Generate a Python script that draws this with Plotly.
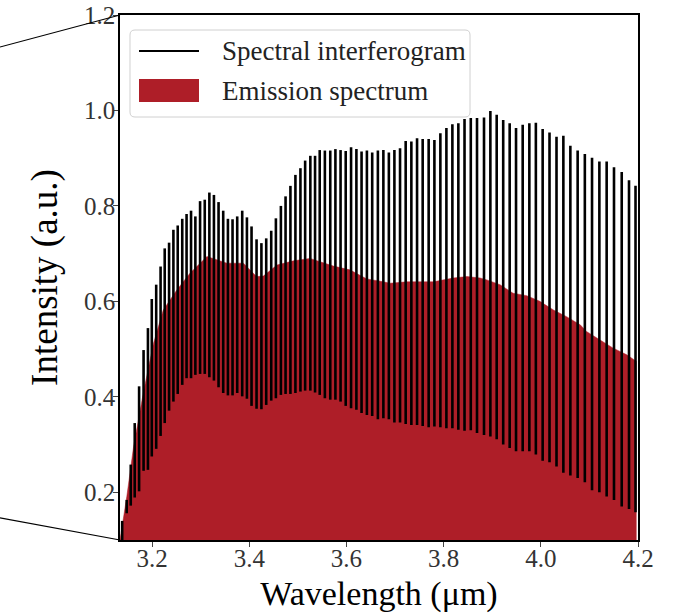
import plotly.graph_objects as go

# Spectral interferogram: one entry per fringe (wavelength in um, trough and peak intensity)
fringe_wl = [3.1385, 3.1478, 3.1561, 3.1643, 3.1733, 3.1825, 3.1915, 3.1994, 3.2085, 3.2175, 3.2260,
             3.2350, 3.2439, 3.2528, 3.2621, 3.2710, 3.2802, 3.2891, 3.2988, 3.3084, 3.3179,
             3.3273, 3.3368, 3.3464, 3.3561, 3.3656, 3.3752, 3.3855, 3.3952, 3.4047, 3.4150,
             3.4250, 3.4349, 3.4452, 3.4548, 3.4651, 3.4747, 3.4847, 3.4950, 3.5053, 3.5150,
             3.5257, 3.5354, 3.5450, 3.5556, 3.5667, 3.5773, 3.5879, 3.5985, 3.6095, 3.6205,
             3.6311, 3.6421, 3.6530, 3.6647, 3.6760, 3.6873, 3.6987, 3.7103, 3.7219, 3.7336,
             3.7453, 3.7569, 3.7692, 3.7810, 3.7933, 3.8057, 3.8180, 3.8303, 3.8430, 3.8559,
             3.8687, 3.8831, 3.8962, 3.9092, 3.9226, 3.9359, 3.9490, 3.9627, 3.9764, 3.9898,
             4.0038, 4.0179, 4.0323, 4.0464, 4.0608, 4.0758, 4.0906, 4.1054, 4.1205, 4.1355,
             4.1506, 4.1665, 4.1815, 4.1949]

fringe_peak = [0.140, 0.184, 0.258, 0.345, 0.422, 0.498, 0.544, 0.605, 0.635, 0.673, 0.711,
               0.723, 0.750, 0.759, 0.773, 0.783, 0.790, 0.778, 0.810, 0.813, 0.828,
               0.823, 0.808, 0.790, 0.773, 0.772, 0.778, 0.790, 0.776, 0.757, 0.730,
               0.722, 0.732, 0.748, 0.774, 0.800, 0.820, 0.842, 0.865, 0.879, 0.895,
               0.905, 0.905, 0.917, 0.916, 0.916, 0.919, 0.917, 0.915, 0.923, 0.919,
               0.914, 0.916, 0.912, 0.916, 0.917, 0.912, 0.917, 0.921, 0.936, 0.935,
               0.942, 0.940, 0.940, 0.938, 0.952, 0.963, 0.971, 0.973, 0.982, 0.984,
               0.984, 0.985, 0.999, 0.991, 0.980, 0.973, 0.963, 0.970, 0.973, 0.974,
               0.961, 0.954, 0.945, 0.947, 0.926, 0.916, 0.909, 0.901, 0.893, 0.893,
               0.881, 0.871, 0.854, 0.842]

fringe_trough = [0.095, 0.156, 0.172, 0.189, 0.202, 0.245, 0.247, 0.275, 0.291, 0.318, 0.345,
                 0.371, 0.390, 0.406, 0.425, 0.439, 0.439, 0.446, 0.448, 0.448, 0.441,
                 0.434, 0.420, 0.408, 0.403, 0.403, 0.408, 0.401, 0.396, 0.381, 0.375,
                 0.374, 0.383, 0.392, 0.397, 0.404, 0.406, 0.406, 0.408, 0.411, 0.413,
                 0.413, 0.409, 0.404, 0.397, 0.394, 0.394, 0.390, 0.381, 0.376, 0.373,
                 0.366, 0.362, 0.360, 0.353, 0.355, 0.353, 0.346, 0.346, 0.343, 0.341,
                 0.341, 0.339, 0.336, 0.338, 0.336, 0.334, 0.334, 0.331, 0.329, 0.330,
                 0.324, 0.320, 0.317, 0.311, 0.300, 0.293, 0.286, 0.286, 0.286, 0.279,
                 0.266, 0.263, 0.254, 0.241, 0.235, 0.230, 0.221, 0.204, 0.200, 0.191,
                 0.184, 0.170, 0.165, 0.158]

# Emission spectrum (filled)
emis_wl = [3.130, 3.134, 3.148, 3.162, 3.182, 3.203, 3.223, 3.251, 3.278, 3.313, 3.354,
           3.388, 3.415, 3.429, 3.457, 3.491, 3.525, 3.546, 3.573, 3.607, 3.642,
           3.676, 3.690, 3.724, 3.779, 3.820, 3.848, 3.875, 3.889, 3.916, 3.943,
           3.971, 3.998, 4.026, 4.053, 4.081, 4.094, 4.122, 4.149, 4.177, 4.194, 4.197]
emis_val = [0.085, 0.100, 0.191, 0.296, 0.408, 0.512, 0.582, 0.624, 0.659, 0.694, 0.680,
            0.680, 0.652, 0.653, 0.676, 0.685, 0.690, 0.683, 0.674, 0.666, 0.647,
            0.641, 0.638, 0.641, 0.641, 0.649, 0.652, 0.649, 0.645, 0.635, 0.617,
            0.612, 0.600, 0.582, 0.568, 0.551, 0.537, 0.519, 0.502, 0.488, 0.477, 0.474]

x_ticks = [3.2, 3.4, 3.6, 3.8, 4.0, 4.2]
y_ticks = [0.2, 0.4, 0.6, 0.8, 1.0, 1.2]

RED = '#ae1e28'
FONT = 'Liberation Serif'

# each fringe drawn as a stroke from trough to peak
sx, sy = [], []
for wl, lo, hi in zip(fringe_wl, fringe_trough, fringe_peak):
    sx += [wl, wl, None]
    sy += [lo, hi, None]

fig = go.Figure()
fig.add_trace(go.Scatter(x=emis_wl, y=emis_val, mode='lines', fill='tozeroy',
                         fillcolor=RED, line=dict(color=RED, width=0.5),
                         name='Emission spectrum', showlegend=False))
fig.add_trace(go.Scatter(x=sx, y=sy, mode='lines', connectgaps=False,
                         line=dict(color='black', width=2.6),
                         name='Spectral interferogram', showlegend=False))

fig.update_layout(
    width=677, height=613,
    margin=dict(l=120, r=39, t=15, b=73, autoexpand=False),
    plot_bgcolor='white', paper_bgcolor='white',
    font=dict(family=FONT, color='black'),
)
fig.update_xaxes(range=[3.134, 4.2], tickvals=x_ticks, tickformat='.1f', automargin=False,
                 showline=True, linecolor='black', linewidth=1.6, mirror=True,
                 ticks='outside', ticklen=5, tickwidth=1.2, showgrid=False, zeroline=False,
                 tickfont=dict(size=25, color='#333'), ticklabelstandoff=-10,
                 ticklabeloverflow='allow',
                 title=dict(text='Wavelength (μm)', font=dict(size=34)))
fig.update_yaxes(range=[0.1, 1.2], tickvals=y_ticks, tickformat='.1f', automargin=False,
                 showline=True, linecolor='black', linewidth=1.6, mirror=True,
                 ticks='outside', ticklen=5, tickwidth=1.2, showgrid=False, zeroline=False,
                 tickfont=dict(size=25, color='#333'), ticklabelstandoff=-7,
                 ticklabeloverflow='allow',
                 title=dict(text='Intensity (a.u.)', font=dict(size=37)))

# zoom connector lines from the inset on the left
fig.add_shape(type='line', xref='paper', yref='paper', x0=-0.2317, y0=0.939, x1=0, y1=1,
              line=dict(color='black', width=1.2))
fig.add_shape(type='line', xref='paper', yref='paper', x0=-0.2317, y0=0.042, x1=0, y1=0,
              line=dict(color='black', width=1.2))

# legend box drawn by hand (matplotlib style)
x0, x1, y0, y1 = 0.0193, 0.6757, 0.8057, 0.9714
rx, ry = 0.0097, 0.0095
box = (f'M{x0+rx},{y0} L{x1-rx},{y0} Q{x1},{y0} {x1},{y0+ry} L{x1},{y1-ry} '
       f'Q{x1},{y1} {x1-rx},{y1} L{x0+rx},{y1} Q{x0},{y1} {x0},{y1-ry} '
       f'L{x0},{y0+ry} Q{x0},{y0} {x0+rx},{y0} Z')
fig.add_shape(type='path', path=box, xref='paper', yref='paper',
              fillcolor='rgba(255,255,255,0.8)', line=dict(color='#d0d0d0', width=1))
fig.add_shape(type='line', xref='paper', yref='paper', x0=0.0367, x1=0.1525,
              y0=0.9314, y1=0.9314, line=dict(color='black', width=1.8))
fig.add_shape(type='rect', xref='paper', yref='paper', x0=0.0367, x1=0.1525,
              y0=0.8343, y1=0.8781, fillcolor=RED, line=dict(width=0))
fig.add_annotation(text='Spectral interferogram', xref='paper', yref='paper',
                   x=0.193, y=0.9314, xanchor='left', yanchor='middle', showarrow=False,
                   font=dict(size=27, family=FONT, color='#222'))
fig.add_annotation(text='Emission spectrum', xref='paper', yref='paper',
                   x=0.193, y=0.856, xanchor='left', yanchor='middle', showarrow=False,
                   font=dict(size=27, family=FONT, color='#222'))

# drop the default 8px body margin so the figure fills the window exactly
fig.write_html("out.html", config={'displayModeBar': False},
               post_script="document.body.style.margin='0';")
